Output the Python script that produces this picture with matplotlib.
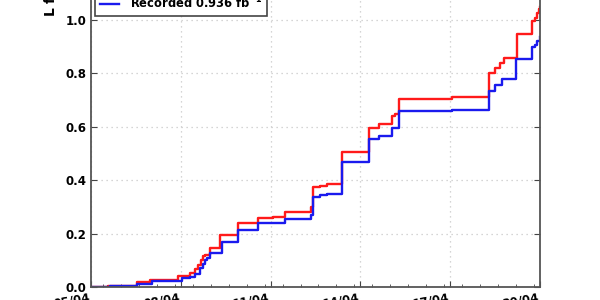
import matplotlib
matplotlib.use("Agg")
import matplotlib.pyplot as plt
from matplotlib.ticker import MultipleLocator

# Day of April (fractional) at which each step occurs, and cumulative luminosity (fb^-1)
delivered_days = [5.00, 5.57, 6.54, 6.97, 7.91, 8.31, 8.47, 8.58, 8.68, 8.74, 8.81, 8.98,
                  9.31, 9.91, 10.58, 11.08, 11.48, 12.35, 12.42, 12.65, 12.89, 13.39,
                  14.29, 14.62, 15.06, 15.16, 15.29, 17.06, 18.30, 18.50, 18.67, 18.80,
                  19.23, 19.73, 19.83, 19.90, 19.97, 20.00]
delivered_lumi = [0.000, 0.005, 0.018, 0.025, 0.042, 0.052, 0.067, 0.082, 0.100, 0.116, 0.120, 0.146,
                  0.195, 0.240, 0.258, 0.262, 0.281, 0.300, 0.375, 0.378, 0.386, 0.506,
                  0.595, 0.610, 0.640, 0.648, 0.704, 0.711, 0.800, 0.820, 0.840, 0.857,
                  0.948, 0.996, 1.007, 1.026, 1.040, 1.050]

recorded_days = [5.00, 5.63, 6.54, 7.04, 8.04, 8.31, 8.47, 8.64, 8.74, 8.81, 8.88, 8.98,
                 9.38, 9.91, 10.58, 11.48, 12.35, 12.42, 12.65, 12.89, 13.39,
                 14.29, 14.62, 15.06, 15.29, 17.06, 18.30, 18.50, 18.73, 19.20,
                 19.73, 19.83, 19.90, 20.00]
recorded_lumi = [0.000, 0.003, 0.012, 0.022, 0.034, 0.037, 0.049, 0.070, 0.086, 0.100, 0.109, 0.127,
                 0.168, 0.213, 0.240, 0.255, 0.270, 0.337, 0.344, 0.348, 0.468,
                 0.554, 0.566, 0.595, 0.660, 0.662, 0.735, 0.757, 0.780, 0.854,
                 0.900, 0.906, 0.920, 0.936]

tick_days = [5, 8, 11, 14, 17, 20]
tick_labels = ["05/04", "08/04", "11/04", "14/04", "17/04", "20/04"]
y_ticks = [0.0, 0.2, 0.4, 0.6, 0.8, 1.0]

delivered_label = "Delivered 1.05 fb$^{-1}$"
recorded_label = "Recorded 0.936 fb$^{-1}$"
y_label = "L fb$^{-1}$"

plt.rcParams['font.family'] = ['DejaVu Sans']
plt.rcParams['font.weight'] = 'bold'
plt.rcParams['mathtext.default'] = 'regular'

fig = plt.figure(figsize=(6, 3), dpi=100)
W, H = 600.0, 300.0
x0, x1 = 91, 540
y0 = 287
ppu = 267.0  # pixels per fb^-1
ytop = 1.2
ax = fig.add_axes([x0 / W, (H - y0) / H, (x1 - x0) / W, ytop * ppu / H])

ax.step(delivered_days, delivered_lumi, where='post', color='#ff1a1a', lw=1.7, label=delivered_label)
ax.step(recorded_days, recorded_lumi, where='post', color='#1a1aee', lw=1.7, label=recorded_label)

ax.set_xlim(5, 20)
ax.set_ylim(0, ytop)
ax.set_xticks(tick_days)
ax.set_xticklabels(tick_labels, rotation=10, ha='right', fontweight='bold')
ax.xaxis.set_minor_locator(MultipleLocator(0.6))
ax.set_yticks(y_ticks)
ax.set_yticklabels(["%.1f" % v for v in y_ticks], fontweight='bold')

ax.tick_params(which='both', direction='in', top=True, right=True, colors='#444444',
               labelcolor='black', labelsize=8.5)
ax.tick_params(which='major', length=4, width=0.8)
ax.tick_params(which='minor', length=2, width=0.6)
ax.tick_params(axis='x', which='major', pad=3)

for s in ax.spines.values():
    s.set_color('#555555')
    s.set_linewidth(1.3)

ax.grid(True, which='major', linestyle=(0, (1, 3)), color='#c8c8c8', lw=0.9)

leg = ax.legend(loc='lower left', bbox_to_anchor=(95 / W, (H - 16) / H),
                bbox_transform=fig.transFigure, borderaxespad=0, fancybox=False,
                prop={'weight': 'bold', 'size': 8.3}, handlelength=1.7, handletextpad=0.9,
                borderpad=0.4, framealpha=1)
leg.get_frame().set_edgecolor('#444444')
leg.get_frame().set_linewidth(1.2)

fig.text(50 / W, (H - 17) / H, y_label, rotation=90, ha='center', va='bottom',
         fontsize=10, fontweight='bold')

fig.savefig("out.png", dpi=100)
